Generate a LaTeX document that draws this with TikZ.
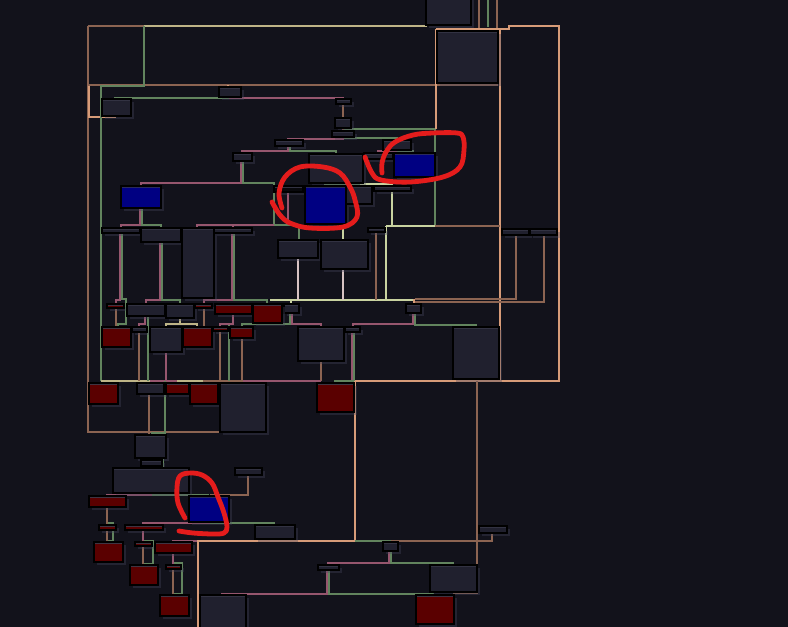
\documentclass[tikz,border=0pt]{standalone}
\usetikzlibrary{fit,shadows}
\definecolor{bg}{RGB}{18,18,27}
\definecolor{ngray}{RGB}{32,32,46}
\definecolor{hgray}{RGB}{50,50,66}
\definecolor{nred}{RGB}{90,0,0}
\definecolor{hred}{RGB}{62,52,66}
\definecolor{nblue}{RGB}{0,0,130}
\definecolor{hblue}{RGB}{42,42,92}
\definecolor{nblk}{RGB}{8,8,12}
\definecolor{cbr}{RGB}{140,100,82}
\definecolor{cpe}{RGB}{215,155,120}
\definecolor{ctn}{RGB}{190,180,135}
\definecolor{cgr}{RGB}{98,132,94}
\definecolor{cpk}{RGB}{150,86,110}
\definecolor{cly}{RGB}{200,210,160}
\definecolor{cwh}{RGB}{215,195,195}
\definecolor{ann}{RGB}{228,28,28}
\definecolor{shd}{RGB}{70,70,95}
\newcommand\nbx[6]{\node[#2, fit={(#3,#4) (#5,#6)}, inner sep=0pt, outer sep=0pt] (#1) {};}
\tikzset{
  base/.style={draw=black, line width=0.8pt,
    general shadow={fill=shd, opacity=0.35, shadow xshift=2pt, shadow yshift=-2pt}},
  gbox/.style={base, fill=ngray, path picture={\fill[hgray] (path picture bounding box.north west) rectangle ([yshift=-1.8pt]path picture bounding box.north east);}},
  rbox/.style={base, fill=nred, path picture={\fill[hred] (path picture bounding box.north west) rectangle ([yshift=-1.8pt]path picture bounding box.north east);}},
  bbox/.style={base, fill=nblue, path picture={\fill[hblue] (path picture bounding box.north west) rectangle ([yshift=-1.8pt]path picture bounding box.north east);}},
  kbox/.style={base, fill=nblk, path picture={\fill[hgray] (path picture bounding box.north west) rectangle ([yshift=-1.5pt]path picture bounding box.north east);}},
  w/.style={line width=1.15pt},
  wbr/.style={w, draw=cbr}, wpe/.style={w, draw=cpe}, wtn/.style={w, draw=ctn},
  wgr/.style={w, draw=cgr}, wpk/.style={w, draw=cpk}, wly/.style={w, draw=cly},
  wwh/.style={w, draw=cwh},
  mark red/.style={draw=ann, line width=3.6pt, line cap=round, line join=round}
}
\begin{document}
\begin{tikzpicture}[x=0.75pt, y=-0.75pt]
\path[use as bounding box, fill=bg] (0,0) rectangle (788,627);
% ---------- wires ----------
\draw[wbr] (88,26)--(144,26);
\draw[wtn] (144,26)--(427,26);
\draw[wbr] (88,26)--(88,432)--(243,432);
\draw[wbr] (88,85)--(498,85);
\draw[wpe] (89,86)--(89,117)--(116,117);
\draw[wgr] (144,26)--(144,86)--(101,86)--(101,381);
\draw[wtn] (101,381)--(150,381);
\draw[wbr] (479,0)--(479,28);
\draw[wgr] (488,0)--(488,27);
\draw[wbr] (497,0)--(497,28);
\draw[wpe] (436,29)--(509,29)--(509,26)--(559,26)--(559,381)--(355,381);
\draw[wpe] (500,29)--(500,381);
\draw[wpe] (436,29)--(436,129);
\draw[wgr] (435,129)--(435,226);
\draw[wpe] (228,85)--(228,87);
\draw[wgr] (115,99)--(115,98)--(228,98)--(228,97);
\draw[wpk] (230,97)--(230,98)--(343,98)--(343,99);
\draw[wbr] (343,104)--(343,118);
\draw[wbr] (343,128)--(343,131);
\draw[wgr] (344,129)--(435,129);
\draw[wpk] (343,137)--(343,139)--(288,139)--(288,151)--(242,151)--(242,153);
\draw[wgr] (345,137)--(345,138)--(397,138)--(397,140);
\draw[wgr] (290,140)--(290,151)--(336,151)--(336,154);
\draw[wpk] (396,150)--(396,151)--(378,151)--(378,153);
\draw[wgr] (398,150)--(398,151)--(413,151)--(413,153);
\draw[wpk] (241,161)--(241,183)--(141,183)--(141,186);
\draw[wgr] (243,161)--(243,183)--(274,183)--(274,225)--(299,225)--(299,240);
\draw[wpk] (288,192)--(288,225);
\draw[wpk] (197,228)--(197,225)--(274,225);
\draw[wpk] (233,225)--(233,228);
\draw[wgr] (324,184)--(360,184);
\draw[wly] (360,184)--(392,184)--(392,186);
\draw[wly] (392,191)--(392,226)--(435,226);
\draw[wbr] (435,226)--(500,226);
\draw[wly] (386,226)--(392,226);
\draw[wly] (386,226)--(386,300)--(270,300);
\draw[wbr] (376,232)--(376,300);
\draw[wly] (343,224)--(343,240);
\draw[wwh] (298,258)--(298,300);
\draw[wwh] (343,269)--(343,300);
\draw[wbr] (516,235)--(516,299)--(415,299);
\draw[wbr] (544,235)--(544,302)--(415,302);
\draw[wpe] (414,299)--(414,304);
\draw[wly] (386,300)--(413,300);
\draw[wpk] (413,313)--(413,324)--(353,324)--(353,327);
\draw[wgr] (415,313)--(415,325)--(476,325)--(476,327);
\draw[wly] (291,300)--(291,304);
\draw[wpk] (292,313)--(292,324)--(321,324)--(321,327);
\draw[wgr] (290,313)--(290,324)--(242,324)--(242,327);
\draw[wpk] (352,332)--(352,381);
\draw[wgr] (354,332)--(354,381)--(335,381)--(335,383);
\draw[wbr] (321,362)--(321,381);
\draw[wpk] (150,381)--(177,381);
\draw[wtn] (177,381)--(203,381);
\draw[wbr] (203,381)--(243,381);
\draw[wpk] (243,381)--(321,381);
% left middle
\draw[wpk] (140,208)--(140,225)--(121,225)--(121,228);
\draw[wgr] (142,208)--(142,225)--(161,225)--(161,228);
\draw[wpk] (120,233)--(120,300)--(116,300)--(116,304);
\draw[wgr] (122,233)--(122,299)--(126,299)--(126,324)--(118,324)--(118,327);
\draw[wbr] (116,308)--(116,327);
\draw[wpk] (160,242)--(160,300)--(146,300)--(146,304);
\draw[wgr] (162,242)--(162,300)--(180,300)--(180,304);
\draw[wpk] (232,233)--(232,300)--(204,300)--(204,304);
\draw[wgr] (234,233)--(234,300)--(267,300)--(267,304);
\draw[wpk] (145,316)--(145,324)--(139,324)--(139,327);
\draw[wgr] (148,316)--(148,381);
\draw[wbr] (139,332)--(139,381);
\draw[wpk] (166,352)--(166,381);
\draw[wtn] (180,318)--(180,324)--(166,324)--(166,327);
\draw[wtn] (180,324)--(197,324)--(197,327);
\draw[wpk] (233,314)--(233,324)--(220,324)--(220,327);
\draw[wbr] (220,331)--(220,381);
\draw[wgr] (229,325)--(229,381);
\draw[wbr] (242,338)--(242,381);
\draw[wbr] (204,308)--(204,327);
% lower part
\draw[wbr] (149,394)--(149,435);
\draw[wgr] (165,381)--(165,433)--(151,433);
\draw[wbr] (150,458)--(150,460);
\draw[wgr] (159,458)--(163,458)--(163,467)--(151,467)--(151,468);
\draw[wpk] (152,493)--(152,495)--(107,495)--(107,496);
\draw[wgr] (152,495)--(208,495)--(208,496);
\draw[wbr] (248,476)--(248,495)--(210,495);
\draw[wbr] (107,507)--(107,525);
\draw[wgr] (108,523)--(113,523)--(113,541)--(108,541)--(108,542);
\draw[wbr] (107,530)--(107,542);
\draw[wpk] (209,522)--(209,523)--(143,523)--(143,525);
\draw[wgr] (210,523)--(274,523)--(274,525);
\draw[wpk] (143,530)--(143,542);
\draw[wgr] (144,541)--(153,541)--(153,564)--(144,564)--(144,565);
\draw[wbr] (143,546)--(143,565);
\draw[wpk] (173,553)--(173,565);
\draw[wgr] (174,563)--(182,563)--(182,594)--(174,594)--(174,595);
\draw[wbr] (173,569)--(173,595);
\draw[wpk] (173,542)--(173,541)--(198,541);
\draw[wpe] (198,627)--(198,541)--(355,541)--(355,381);
\draw[wgr] (355,541)--(390,541)--(390,542);
\draw[wbr] (391,541)--(492,541)--(492,533);
\draw[wbr] (477,381)--(477,593)--(453,593);
\draw[wpk] (389,552)--(389,563)--(328,563)--(328,565);
\draw[wgr] (391,552)--(391,563)--(453,563)--(453,565);
\draw[wpk] (327,570)--(327,594)--(222,594)--(222,595);
\draw[wgr] (329,570)--(329,594)--(433,594)--(433,595);
% ---------- nodes ----------
\nbx{n1}{gbox}{426}{-3}{471}{25}
\nbx{n2}{gbox}{437}{31}{498}{83}
\nbx{n3}{gbox}{102}{99}{131}{116}
\nbx{n4}{gbox}{219}{87}{241}{97}
\nbx{n5}{gbox}{336}{99}{351}{104}
\nbx{n6}{gbox}{335}{118}{351}{128}
\nbx{n7}{gbox}{332}{131}{354}{137}
\nbx{n8}{gbox}{275}{140}{303}{146}
\nbx{n9}{gbox}{383}{140}{411}{150}
\nbx{n10}{gbox}{233}{153}{252}{161}
\nbx{n11}{gbox}{309}{154}{363}{183}
\nbx{n12}{gbox}{364}{153}{393}{159}
\nbx{n13}{bbox}{394}{153}{435}{177}
\nbx{n14}{bbox}{121}{186}{161}{208}
\nbx{n15}{kbox}{274}{186}{303}{192}
\nbx{n16}{bbox}{305}{186}{346}{224}
\nbx{n17}{gbox}{346}{186}{372}{204}
\nbx{n18}{gbox}{374}{186}{411}{191}
\nbx{n19}{gbox}{102}{228}{140}{233}
\nbx{n20}{gbox}{141}{228}{181}{242}
\nbx{n21}{gbox}{182}{228}{214}{298}
\nbx{n22}{gbox}{214}{228}{252}{233}
\nbx{n23}{gbox}{278}{240}{318}{258}
\nbx{n24}{gbox}{321}{240}{368}{269}
\nbx{n25}{gbox}{368}{228}{385}{232}
\nbx{n26}{gbox}{502}{229}{529}{235}
\nbx{n27}{gbox}{530}{229}{557}{235}
\nbx{n28}{gbox}{406}{304}{421}{313}
\nbx{n29}{gbox}{453}{327}{499}{379}
\nbx{n30}{gbox}{298}{327}{344}{361}
\nbx{n31}{gbox}{345}{327}{360}{332}
\nbx{n32}{gbox}{284}{304}{299}{313}
\nbx{n33}{rbox}{317}{383}{354}{412}
\nbx{n34}{rbox}{107}{304}{124}{308}
\nbx{n35}{gbox}{127}{304}{165}{316}
\nbx{n36}{gbox}{166}{304}{194}{318}
\nbx{n37}{rbox}{195}{304}{212}{308}
\nbx{n38}{rbox}{215}{304}{252}{314}
\nbx{n39}{rbox}{253}{304}{282}{323}
\nbx{n41}{rbox}{102}{327}{131}{347}
\nbx{n42}{gbox}{132}{327}{147}{332}
\nbx{n43}{gbox}{150}{327}{182}{352}
\nbx{n44}{rbox}{183}{327}{212}{347}
\nbx{n45}{rbox}{213}{327}{228}{331}
\nbx{n46}{rbox}{230}{327}{253}{338}
\nbx{n47}{rbox}{89}{383}{118}{404}
\nbx{n48}{gbox}{137}{383}{164}{394}
\nbx{n49}{rbox}{166}{383}{189}{394}
\nbx{n50}{rbox}{190}{383}{218}{404}
\nbx{n51}{gbox}{220}{383}{266}{432}
\nbx{n52}{gbox}{135}{435}{166}{458}
\nbx{n53}{gbox}{141}{460}{162}{466}
\nbx{n54}{gbox}{113}{468}{189}{493}
\nbx{n55}{gbox}{235}{468}{262}{475}
\nbx{n56}{rbox}{89}{496}{126}{507}
\nbx{n57}{bbox}{189}{496}{229}{522}
\nbx{n58}{rbox}{99}{525}{116}{530}
\nbx{n59}{rbox}{125}{525}{163}{530}
\nbx{n60}{gbox}{255}{525}{295}{539}
\nbx{n61}{rbox}{94}{542}{123}{562}
\nbx{n62}{rbox}{135}{542}{152}{546}
\nbx{n63}{rbox}{155}{542}{192}{553}
\nbx{n64}{rbox}{130}{565}{158}{585}
\nbx{n65}{rbox}{166}{565}{181}{569}
\nbx{n66}{rbox}{160}{595}{189}{616}
\nbx{n67}{gbox}{200}{595}{246}{632}
\nbx{n68}{gbox}{318}{565}{339}{570}
\nbx{n69}{gbox}{383}{542}{398}{551}
\nbx{n70}{gbox}{430}{565}{477}{592}
\nbx{n71}{rbox}{416}{595}{454}{624}
\nbx{n72}{gbox}{479}{526}{507}{533}
% ---------- red annotations ----------
\draw[mark red] plot[smooth, tension=0.6] coordinates {(365,157) (372,173) (381,180) (410,182) (443,177) (460,167) (464,150) (463,137) (457,133) (433,133) (413,135) (395,142) (386,152) (382,163) (382,173)};
\draw[mark red] plot[smooth, tension=0.6] coordinates {(272,202) (280,215) (290,223) (310,228) (343,227) (357,217) (355,200) (350,187) (340,173) (323,167) (300,167) (285,177) (279,193) (282,208)};
\draw[mark red] plot[smooth, tension=0.6] coordinates {(185,518) (178,503) (177,487) (180,476) (190,473) (202,475) (212,483) (218,497) (224,513) (227,527) (224,533) (213,534) (193,533) (179,531)};
\end{tikzpicture}
\end{document}
